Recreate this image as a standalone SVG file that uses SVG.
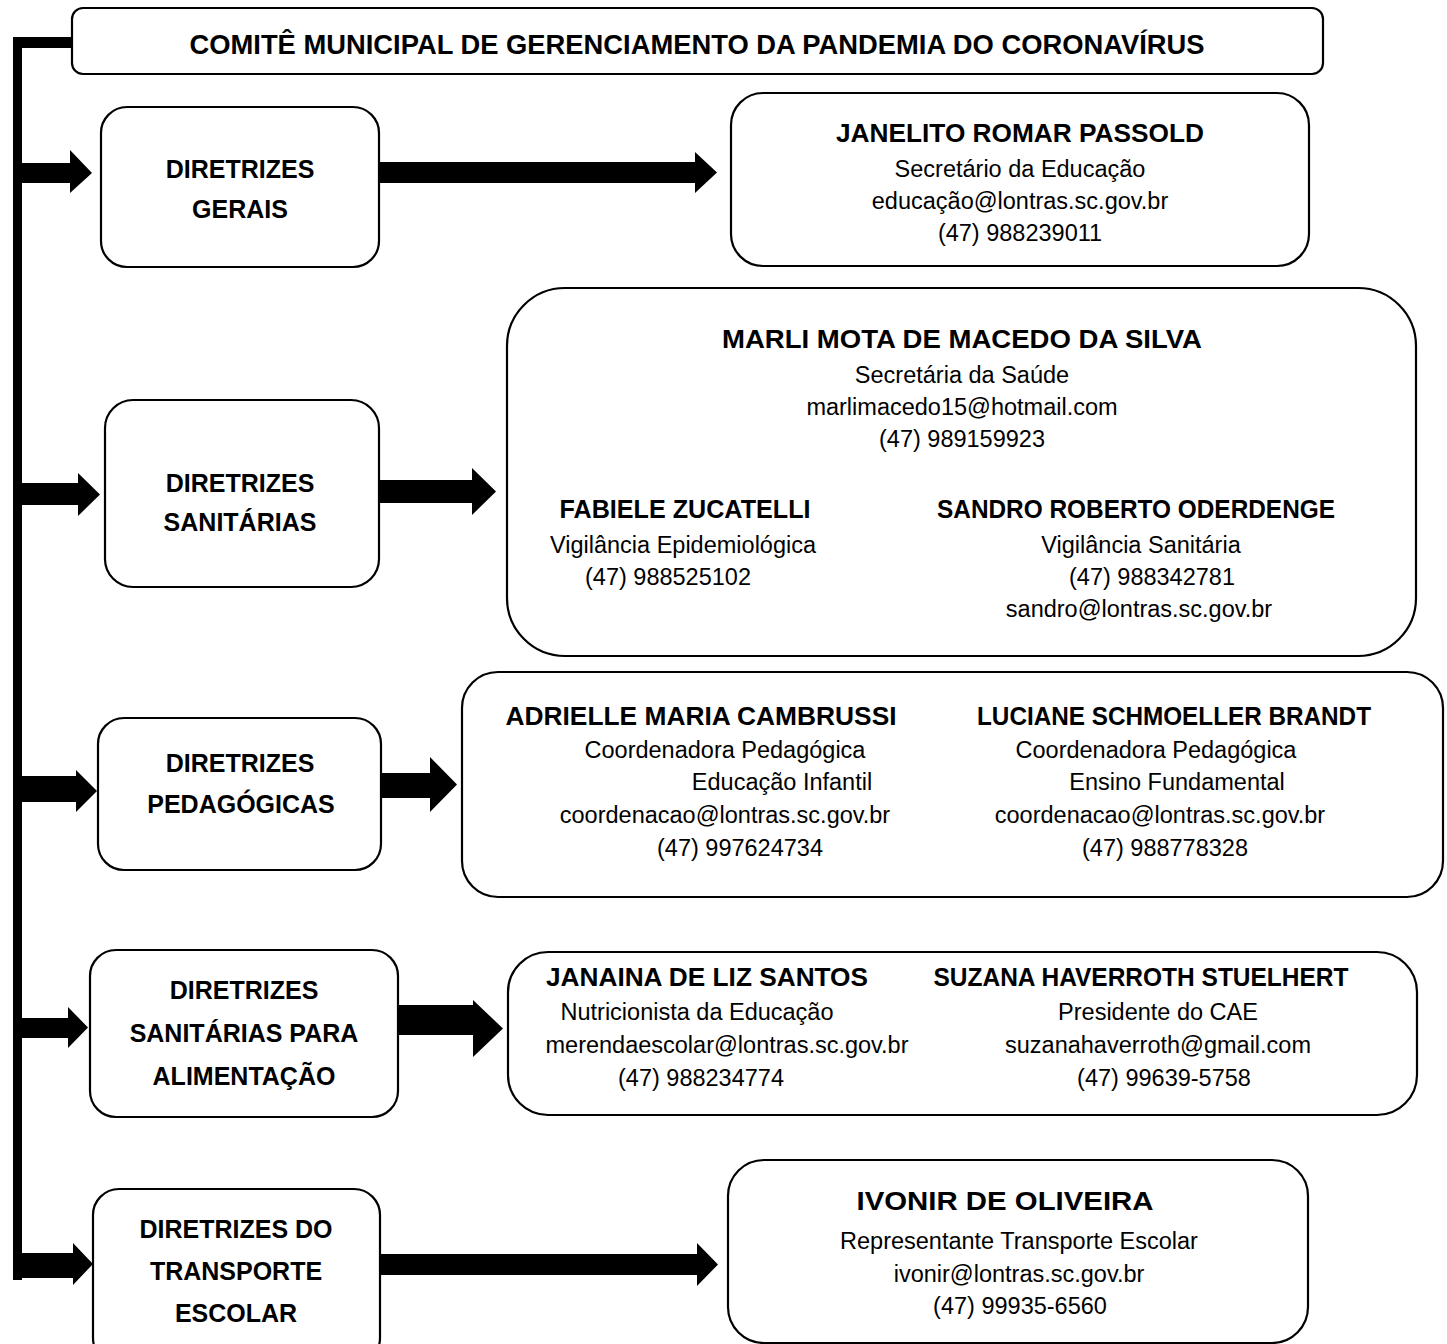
<svg xmlns="http://www.w3.org/2000/svg" width="1447" height="1344" viewBox="0 0 1447 1344">
<style>
.box{fill:#fff;stroke:#000;stroke-width:2.2}
.arr{fill:#000}
text{font-family:"Liberation Sans",Arial,sans-serif;fill:#000;text-anchor:middle}
.h{font-weight:bold;font-size:25px}
.t{font-weight:bold;font-size:27px}
.n{font-weight:bold;font-size:26px}
.r{font-size:23.5px}
</style>
<rect width="1447" height="1344" fill="#fff"/>
<g id="connectors">
<polygon class="arr" points="13,37 72,37 72,48 22,48 22,1280 13,1280"/>
<polygon class="arr" points="22,163 70,163 70,150 92,173 70,193 70,183 22,183"/>
<polygon class="arr" points="379,162 695,162 695,152 717,172.5 695,193 695,183 379,183"/>
<polygon class="arr" points="22,483 78,483 78,473 100,494.5 78,516 78,505 22,505"/>
<polygon class="arr" points="379,480 472,480 472,468 496,491.5 472,515 472,503 379,503"/>
<polygon class="arr" points="22,776 76,776 76,770 97,791 76,812 76,802 22,802"/>
<polygon class="arr" points="381,773 430,773 430,757 457,784.5 430,812 430,798 381,798"/>
<polygon class="arr" points="22,1018 68,1018 68,1007 88,1027.5 68,1048 68,1038 22,1038"/>
<polygon class="arr" points="398,1005 473,1005 473,1000 503,1028.5 473,1057 473,1035 398,1035"/>
<polygon class="arr" points="13,1253 73,1253 73,1243 93,1264 73,1285 73,1278 22,1278 22,1280 13,1280"/>
<polygon class="arr" points="380,1254 697,1254 697,1243 718,1264.5 697,1286 697,1275 380,1275"/>
</g>
<g id="title">
<rect class="box" x="72" y="8" width="1251" height="66" rx="11"/>
<text class="t" x="697" y="54" textLength="1015" lengthAdjust="spacingAndGlyphs">COMITÊ MUNICIPAL DE GERENCIAMENTO DA PANDEMIA DO CORONAVÍRUS</text>
</g>
<g id="gerais">
<rect class="box" x="101" y="107" width="278" height="160" rx="26"/>
<text class="h" x="240" y="178">DIRETRIZES</text>
<text class="h" x="240" y="218">GERAIS</text>
</g>
<g id="sanitarias">
<rect class="box" x="105" y="400" width="274" height="187" rx="28"/>
<text class="h" x="240" y="492">DIRETRIZES</text>
<text class="h" x="240" y="531">SANITÁRIAS</text>
</g>
<g id="pedagogicas">
<rect class="box" x="98" y="718" width="283" height="152" rx="26"/>
<text class="h" x="240" y="772">DIRETRIZES</text>
<text class="h" x="241" y="813">PEDAGÓGICAS</text>
</g>
<g id="alimentacao">
<rect class="box" x="90" y="950" width="308" height="167" rx="26"/>
<text class="h" x="244" y="999">DIRETRIZES</text>
<text class="h" x="244" y="1042">SANITÁRIAS PARA</text>
<text class="h" x="244" y="1085">ALIMENTAÇÃO</text>
</g>
<g id="transporte">
<rect class="box" x="93" y="1189" width="287" height="175" rx="26"/>
<text class="h" x="236" y="1238">DIRETRIZES DO</text>
<text class="h" x="236" y="1280">TRANSPORTE</text>
<text class="h" x="236" y="1322">ESCOLAR</text>
</g>
<g id="janelito">
<rect class="box" x="731" y="93" width="578" height="173" rx="32"/>
<text class="n" x="1020" y="142" textLength="368" lengthAdjust="spacingAndGlyphs">JANELITO ROMAR PASSOLD</text>
<text class="r" x="1020" y="177">Secretário da Educação</text>
<text class="r" x="1020" y="209">educação@lontras.sc.gov.br</text>
<text class="r" x="1020" y="241">(47) 988239011</text>
</g>
<g id="saude">
<rect class="box" x="507" y="288" width="909" height="368" rx="58"/>
<text class="n" x="962" y="348" textLength="480" lengthAdjust="spacingAndGlyphs">MARLI MOTA DE MACEDO DA SILVA</text>
<text class="r" x="962" y="383">Secretária da Saúde</text>
<text class="r" x="962" y="415">marlimacedo15@hotmail.com</text>
<text class="r" x="962" y="447">(47) 989159923</text>
<text class="n" x="685" y="518" textLength="251" lengthAdjust="spacingAndGlyphs">FABIELE ZUCATELLI</text>
<text class="r" x="683" y="553">Vigilância Epidemiológica</text>
<text class="r" x="668" y="585">(47) 988525102</text>
<text class="n" x="1136" y="518" textLength="398" lengthAdjust="spacingAndGlyphs">SANDRO ROBERTO ODERDENGE</text>
<text class="r" x="1141" y="553">Vigilância Sanitária</text>
<text class="r" x="1152" y="585">(47) 988342781</text>
<text class="r" x="1139" y="617">sandro@lontras.sc.gov.br</text>
</g>
<g id="pedagogia">
<rect class="box" x="462" y="672" width="981" height="225" rx="36"/>
<text class="n" x="701" y="725" textLength="391" lengthAdjust="spacingAndGlyphs">ADRIELLE MARIA CAMBRUSSI</text>
<text class="r" x="725" y="758">Coordenadora Pedagógica</text>
<text class="r" x="782" y="790">Educação Infantil</text>
<text class="r" x="725" y="823">coordenacao@lontras.sc.gov.br</text>
<text class="r" x="740" y="856">(47) 997624734</text>
<text class="n" x="1174" y="725" textLength="394" lengthAdjust="spacingAndGlyphs">LUCIANE SCHMOELLER BRANDT</text>
<text class="r" x="1156" y="758">Coordenadora Pedagógica</text>
<text class="r" x="1177" y="790">Ensino Fundamental</text>
<text class="r" x="1160" y="823">coordenacao@lontras.sc.gov.br</text>
<text class="r" x="1165" y="856">(47) 988778328</text>
</g>
<g id="alimentos">
<rect class="box" x="508" y="952" width="909" height="163" rx="40"/>
<text class="n" x="707" y="986" textLength="322" lengthAdjust="spacingAndGlyphs">JANAINA DE LIZ SANTOS</text>
<text class="r" x="697" y="1020">Nutricionista da Educação</text>
<text class="r" x="727" y="1053">merendaescolar@lontras.sc.gov.br</text>
<text class="r" x="701" y="1086">(47) 988234774</text>
<text class="n" x="1141" y="986" textLength="415" lengthAdjust="spacingAndGlyphs">SUZANA HAVERROTH STUELHERT</text>
<text class="r" x="1158" y="1020">Presidente do CAE</text>
<text class="r" x="1158" y="1053">suzanahaverroth@gmail.com</text>
<text class="r" x="1164" y="1086">(47) 99639-5758</text>
</g>
<g id="ivonir">
<rect class="box" x="728" y="1160" width="580" height="183" rx="36"/>
<text class="n" x="1005" y="1210" textLength="297" lengthAdjust="spacingAndGlyphs">IVONIR DE OLIVEIRA</text>
<text class="r" x="1019" y="1249">Representante Transporte Escolar</text>
<text class="r" x="1019" y="1282">ivonir@lontras.sc.gov.br</text>
<text class="r" x="1020" y="1314">(47) 99935-6560</text>
</g>
</svg>
